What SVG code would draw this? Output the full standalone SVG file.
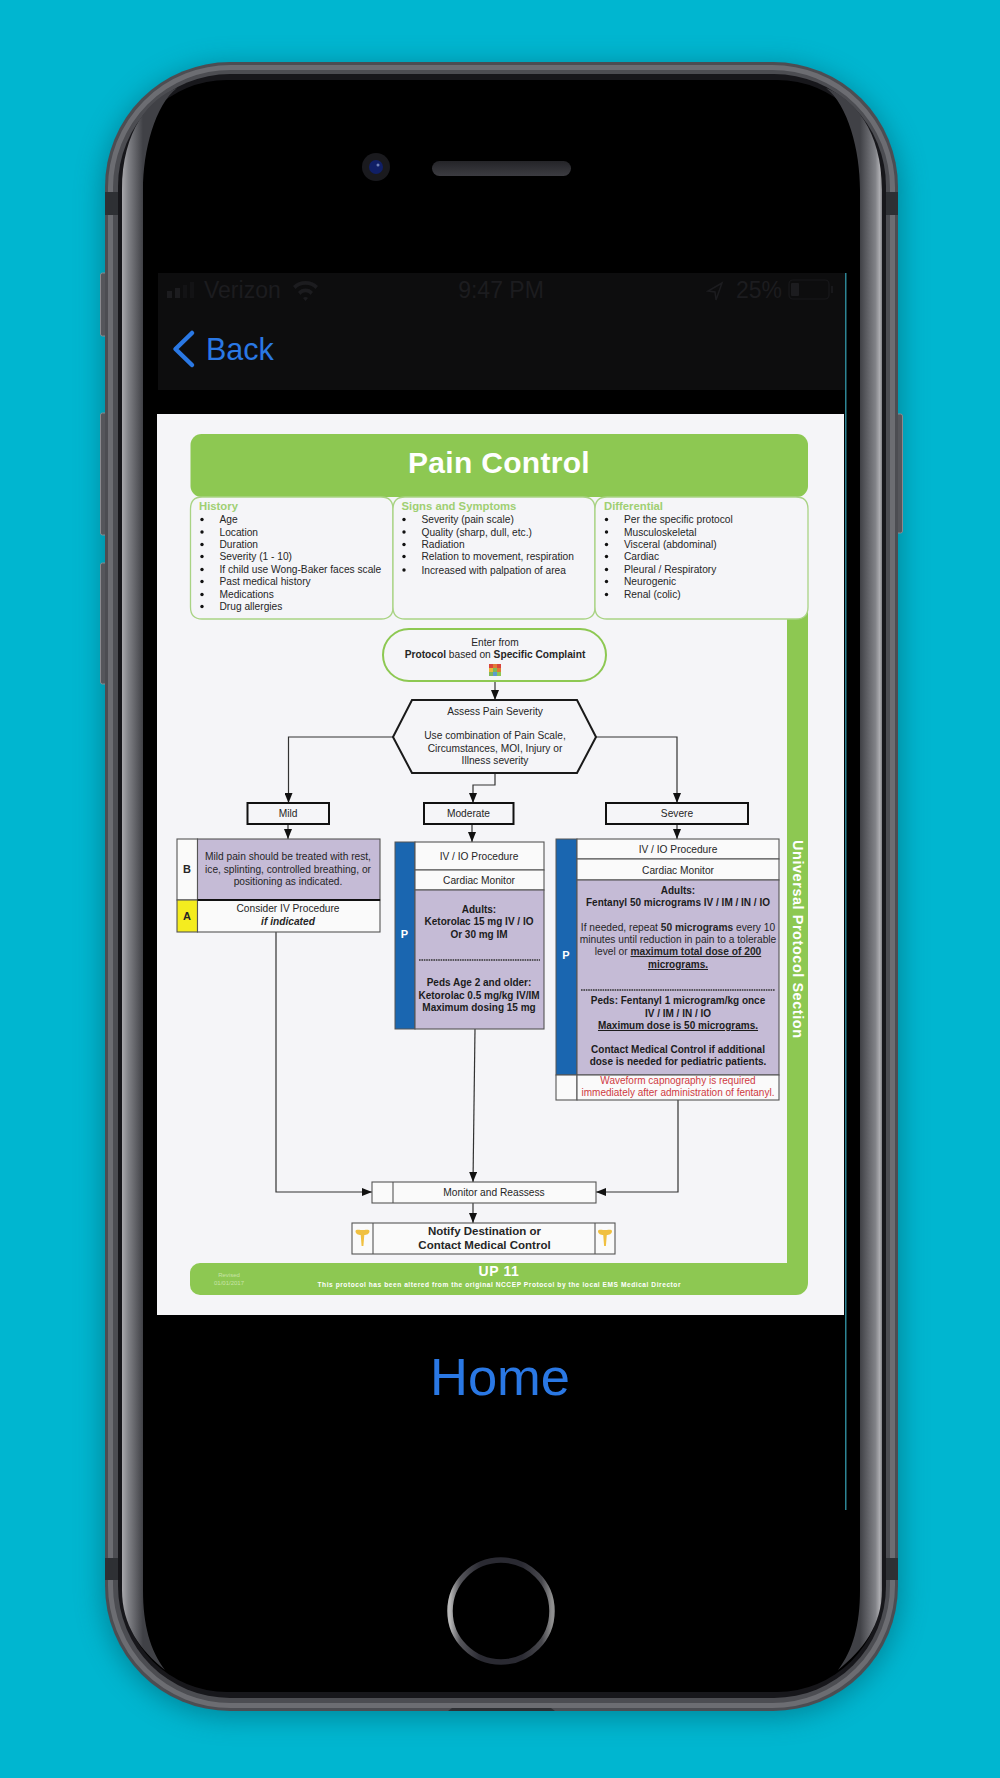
<svg xmlns="http://www.w3.org/2000/svg" width="1000" height="1778" viewBox="0 0 1000 1778">
<style>
text{font-family:"Liberation Sans",Arial,sans-serif;fill:#262626;font-size:10.2px}
.c{text-anchor:middle}
.b{font-weight:700}
.bb{font-weight:700;font-size:10px;text-anchor:middle;fill:#1c1c1c}
.h{font-weight:700;font-size:11.3px;fill:#9fcf72}
.li{font-size:10.2px}
.box{fill:#fafafa;stroke:#555;stroke-width:1.1}
.pur{fill:#c5bbd6;stroke:#555;stroke-width:1.1}
.blue{fill:#1a66b0}
.lab{fill:#f5f5f8;stroke:#111;stroke-width:2}
.info{fill:#f5f5f8;stroke:#a9d384;stroke-width:1.3}
.con{fill:none;stroke:#333;stroke-width:1.2}
.dash{stroke:#333;stroke-width:1.6;stroke-dasharray:1.6 .8}
.st{fill:#1c1c1f;font-size:23px}
.blue-t{fill:#2a78e4}
.red{fill:#cf3a42;font-size:10px;text-anchor:middle}
.u{text-decoration:underline}
.btn{fill:#55565b;stroke:#8a8a8f;stroke-width:1}
.band{fill:#2e3034}
.dot{fill:#111}
</style>
<defs>
<marker id="ah" viewBox="0 0 10 8" refX="10" refY="4" markerWidth="10" markerHeight="8" markerUnits="userSpaceOnUse" orient="auto"><path d="M0 0L10 4L0 8Z" fill="#111"/></marker>
<filter id="sh" x="-10%" y="-10%" width="120%" height="120%"><feGaussianBlur stdDeviation="14"/></filter>
<linearGradient id="bl" gradientUnits="userSpaceOnUse" x1="122" y1="0" x2="143" y2="0"><stop offset="0" stop-color="#a8a8ac"/><stop offset=".3" stop-color="#818287"/><stop offset="1" stop-color="#404146"/></linearGradient>
<linearGradient id="br" gradientUnits="userSpaceOnUse" x1="860" y1="0" x2="882" y2="0"><stop offset="0" stop-color="#404146"/><stop offset=".7" stop-color="#818287"/><stop offset=".9" stop-color="#aeaeb2"/><stop offset="1" stop-color="#808084"/></linearGradient>
<linearGradient id="ring" x1="0" y1="0" x2="1" y2="0"><stop offset="0" stop-color="#b8b8b8"/><stop offset=".1" stop-color="#55555a"/><stop offset=".3" stop-color="#2a2a32"/><stop offset=".7" stop-color="#2a2a32"/><stop offset=".9" stop-color="#48484d"/><stop offset="1" stop-color="#8f8f8f"/></linearGradient>
<linearGradient id="spk" x1="0" y1="0" x2="0" y2="1"><stop offset="0" stop-color="#242428"/><stop offset="1" stop-color="#3c3c41"/></linearGradient>
<path id="cad" d="M-7-7C-7-8.500-4-8.500-2-8L2-8C4-8.500 7-8.500 7-7C7-4 4-3 1.800-3L.9 8L-.9 8L-1.800-3C-4-3-7-4-7-7Z" fill="#f0c040"/>
</defs>
<rect width="1000" height="1778" fill="#00b6d0"/>
<g id="phone">
<rect x="103" y="66" width="797" height="1650" rx="128" fill="#03606f" opacity=".6" filter="url(#sh)"/>
<rect class="btn" x="100.500" y="273" width="7" height="63" rx="2"/>
<rect class="btn" x="100.500" y="413" width="7" height="122" rx="2"/>
<rect class="btn" x="100.500" y="563" width="7" height="121" rx="2"/>
<rect class="btn" x="895.500" y="414" width="7" height="119" rx="2"/>
<rect x="105" y="62" width="793" height="1649" rx="125" fill="#4c4d52"/>
<rect x="110.500" y="67.500" width="782" height="1638" rx="120" fill="none" stroke="#6c6d72" stroke-width="5"/>
<rect class="band" x="105" y="192" width="13" height="23"/>
<rect class="band" x="885" y="192" width="13" height="23"/>
<rect class="band" x="105" y="1558" width="13" height="22"/>
<rect class="band" x="885" y="1558" width="13" height="22"/>
<path class="band" d="M448 1711L452 1708H551L555 1711Z"/>
<rect x="118" y="74" width="768" height="1624" rx="112" fill="#17171b"/>
<rect x="122" y="80" width="760" height="1612" rx="105" fill="#000"/>
<path d="M177 88C150 98 122 130 122 190V1590C122 1625 140 1650 165 1670C150 1650 143 1625 143 1590V190C143 150 155 105 177 88Z" fill="url(#bl)"/>
<path d="M826 88C853 98 882 130 882 190V1590C882 1625 863 1650 838 1670C853 1650 860 1625 860 1590V190C860 150 848 105 826 88Z" fill="url(#br)"/>
<circle cx="376" cy="167" r="14" fill="#1a1a1e"/>
<circle cx="376" cy="167" r="7" fill="#101f66"/>
<circle cx="378" cy="165" r="1.500" fill="#6f80b8"/>
<rect x="432" y="161" width="139" height="15" rx="7.500" fill="url(#spk)"/>
<circle cx="501" cy="1611" r="51" fill="none" stroke="url(#ring)" stroke-width="5.500"/>
<rect x="158" y="273" width="687" height="117" fill="#0d0d0e"/>
<rect x="845" y="273" width="1.500" height="1237" fill="#2d8494"/>
<rect x="157" y="414" width="687" height="901" fill="#f5f5f8"/>
<g id="status-bar">
<rect x="167" y="291" width="5" height="7" fill="#1c1c1f"/><rect x="175" y="288" width="5" height="10" fill="#1c1c1f"/><rect x="183" y="285" width="4" height="13" fill="#131315"/><rect x="190" y="282" width="4" height="16" fill="#131315"/>
<text class="st" x="204" y="298">Verizon</text>
<path d="M293 286a18 18 0 0 1 25 0l-2.500 3a14 14 0 0 0-20 0zM298 292a10 10 0 0 1 15 0l-2.500 3a6 6 0 0 0-10 0zM303 298a4 4 0 0 1 5 0l-2.500 3z" fill="#1c1c1f"/>
<text class="st c" x="501" y="298">9:47 PM</text>
<path d="M722 283L708 291L715 292L716 300Z" fill="none" stroke="#1c1c1f" stroke-width="1.500"/>
<text class="st" x="736" y="298">25%</text>
<rect x="789" y="280" width="40" height="19" rx="4" fill="none" stroke="#18181b" stroke-width="1.200"/>
<rect x="791" y="283" width="8" height="13" rx="1" fill="#1c1c1f"/>
<rect x="831" y="286" width="2" height="7" fill="#18181b"/>
</g>
<g id="back-button">
<path d="M192 333L175.500 349L192 365" fill="none" stroke="#2a78e4" stroke-width="4.500" stroke-linecap="round" stroke-linejoin="round"/>
<text class="blue-t" x="206" y="360" style="font-size:30.500px">Back</text>
</g>
<g id="home-button"><text class="blue-t c" x="500" y="1395" style="font-size:52.500px">Home</text></g>
</g>

<g id="frame">
<path d="M787 610V1263H200A10 10 0 0 0 190 1273V1285A10 10 0 0 0 200 1295H796A12 12 0 0 0 808 1283V610Z" fill="#8dc852"/>
<text class="b" x="0" y="0" transform="translate(793 939) rotate(90)" text-anchor="middle" textLength="198" lengthAdjust="spacing" style="fill:#fff;font-size:14.500px">Universal Protocol Section</text>
<text class="b c" x="499" y="1276" style="fill:#fff;font-size:14px;letter-spacing:.6px">UP 11</text>
<text class="b c" x="499" y="1287" textLength="363" lengthAdjust="spacing" style="fill:#fff;font-size:6.600px">This protocol has been altered from the original NCCEP Protocol by the local EMS Medical Director</text>
<text class="c" x="229" y="1277" style="fill:#c8e4a8;font-size:6px">Revised</text>
<text class="c" x="229" y="1285" style="fill:#c8e4a8;font-size:6px">01/01/2017</text>
</g>

<g id="title"><rect x="190.500" y="434" width="617.500" height="63" rx="11" fill="#8dc852"/>
<text class="b c" x="499" y="473" style="fill:#fff;font-size:30px;letter-spacing:.3px">Pain Control</text></g>

<g id="history"><path class="info" d="M202 497H381Q393 497 393 509V607Q393 619 381 619H202Q190.500 619 190.500 607V509Q190.500 497 202 497Z"/>
<text class="h" x="199" y="510">History</text>
<circle class="dot" cx="202" cy="519.500" r="1.700"/><text class="li" x="219.500" y="523">Age</text>
<circle class="dot" cx="202" cy="532" r="1.700"/><text class="li" x="219.500" y="535.500">Location</text>
<circle class="dot" cx="202" cy="544.500" r="1.700"/><text class="li" x="219.500" y="548">Duration</text>
<circle class="dot" cx="202" cy="556.500" r="1.700"/><text class="li" x="219.500" y="560">Severity (1 - 10)</text>
<circle class="dot" cx="202" cy="569.500" r="1.700"/><text class="li" x="219.500" y="572.700">If child use Wong-Baker faces scale</text>
<circle class="dot" cx="202" cy="581.500" r="1.700"/><text class="li" x="219.500" y="585">Past medical history</text>
<circle class="dot" cx="202" cy="594.500" r="1.700"/><text class="li" x="219.500" y="597.700">Medications</text>
<circle class="dot" cx="202" cy="606.500" r="1.700"/><text class="li" x="219.500" y="610">Drug allergies</text>
</g>

<g id="signs"><path class="info" d="M405 497H583Q595 497 595 509V607Q595 619 583 619H405Q393 619 393 607V509Q393 497 405 497Z"/>
<text class="h" x="401.500" y="510">Signs and Symptoms</text>
<circle class="dot" cx="404" cy="519.500" r="1.700"/><text class="li" x="421.500" y="523">Severity (pain scale)</text>
<circle class="dot" cx="404" cy="532" r="1.700"/><text class="li" x="421.500" y="535.500">Quality (sharp, dull, etc.)</text>
<circle class="dot" cx="404" cy="544.500" r="1.700"/><text class="li" x="421.500" y="548">Radiation</text>
<circle class="dot" cx="404" cy="556.500" r="1.700"/><text class="li" x="421.500" y="560">Relation to movement, respiration</text>
<circle class="dot" cx="404" cy="570" r="1.700"/><text class="li" x="421.500" y="573.500">Increased with palpation of area</text>
</g>

<g id="differential"><path class="info" d="M607 497H796Q808 497 808 509V607Q808 619 796 619H607Q595 619 595 607V509Q595 497 607 497Z"/>
<text class="h" x="604" y="510">Differential</text>
<circle class="dot" cx="606.500" cy="519.500" r="1.700"/><text class="li" x="624" y="523">Per the specific protocol</text>
<circle class="dot" cx="606.500" cy="532" r="1.700"/><text class="li" x="624" y="535.500">Musculoskeletal</text>
<circle class="dot" cx="606.500" cy="544.500" r="1.700"/><text class="li" x="624" y="548">Visceral (abdominal)</text>
<circle class="dot" cx="606.500" cy="556.500" r="1.700"/><text class="li" x="624" y="560">Cardiac</text>
<circle class="dot" cx="606.500" cy="569.500" r="1.700"/><text class="li" x="624" y="572.700">Pleural / Respiratory</text>
<circle class="dot" cx="606.500" cy="581.500" r="1.700"/><text class="li" x="624" y="585">Neurogenic</text>
<circle class="dot" cx="606.500" cy="594.500" r="1.700"/><text class="li" x="624" y="597.700">Renal (colic)</text>
</g>

<g id="connectors">
<path class="con" marker-end="url(#ah)" d="M495 681V700"/>
<path class="con" marker-end="url(#ah)" d="M393 737H288.500V803"/>
<path class="con" marker-end="url(#ah)" d="M596 737H677V803"/>
<path class="con" marker-end="url(#ah)" d="M495 773V785H473V803"/>
<path class="con" marker-end="url(#ah)" d="M288 824V839"/>
<path class="con" marker-end="url(#ah)" d="M472 824V842"/>
<path class="con" marker-end="url(#ah)" d="M677 824V839"/>
<path class="con" marker-end="url(#ah)" d="M276 932V1192H372"/>
<path class="con" marker-end="url(#ah)" d="M475 1029L473 1182"/>
<path class="con" marker-end="url(#ah)" d="M678 1100V1192H596"/>
<path class="con" marker-end="url(#ah)" d="M473 1203V1223"/>
</g>

<g id="enter"><rect x="383" y="629" width="223" height="52" rx="26" fill="#f5f5f8" stroke="#8dc852" stroke-width="2"/>
<text class="c" x="495" y="646">Enter from</text>
<text class="c" x="495" y="658"><tspan class="b">Protocol</tspan> based on <tspan class="b">Specific Complaint</tspan></text>
<rect x="489" y="664" width="4" height="4" fill="#d9443c"/><rect x="493" y="664" width="4" height="4" fill="#e07b35"/><rect x="497" y="664" width="4" height="4" fill="#d9443c"/>
<rect x="489" y="668" width="4" height="4" fill="#e9b93a"/><rect x="493" y="668" width="4" height="4" fill="#7fb85a"/><rect x="497" y="668" width="4" height="4" fill="#e07b35"/>
<rect x="489" y="672" width="4" height="4" fill="#7fb85a"/><rect x="493" y="672" width="4" height="4" fill="#5d9bd0"/><rect x="497" y="672" width="4" height="4" fill="#8dc852"/>
</g>

<g id="assess"><path d="M412 700H577L596 737L577 773H412L393 737Z" fill="#f5f5f8" stroke="#1a1a1a" stroke-width="2"/>
<text class="c" x="495" y="715">Assess Pain Severity</text>
<text class="c" x="495" y="739">Use combination of Pain Scale,</text>
<text class="c" x="495" y="752">Circumstances, MOI, Injury or</text>
<text class="c" x="495" y="764">Illness severity</text></g>

<g id="mild"><rect class="lab" x="247.500" y="803" width="81.500" height="21"/><text class="c" x="288" y="816.500">Mild</text></g>
<g id="moderate"><rect class="lab" x="424" y="803" width="89.500" height="21"/><text class="c" x="468.500" y="816.500">Moderate</text></g>
<g id="severe"><rect class="lab" x="606" y="803" width="142" height="21"/><text class="c" x="677" y="816.500">Severe</text></g>

<g id="bls">
<rect class="box" x="177" y="839" width="20.500" height="61"/>
<rect class="pur" x="197.500" y="839" width="182.500" height="61"/>
<text class="b c" x="187" y="872.500" style="font-size:11px">B</text>
<text class="c" x="288" y="860">Mild pain should be treated with rest,</text>
<text class="c" x="288" y="873">ice, splinting, controlled breathing, or</text>
<text class="c" x="288" y="885">positioning as indicated.</text>
</g>
<g id="als">
<rect x="177" y="900" width="20.500" height="32" fill="#f4ec1f" stroke="#555" stroke-width="1.100"/>
<rect class="box" x="197.500" y="900" width="182.500" height="32"/>
<path d="M197.500 900H380" stroke="#111" stroke-width="1.800"/>
<text class="b c" x="187" y="919.500" style="font-size:11px">A</text>
<text class="c" x="288" y="912">Consider IV Procedure</text>
<text class="b c" x="288" y="925" style="font-style:italic">if indicated</text>
</g>

<g id="moderate-protocol">
<rect class="blue" x="395" y="842" width="20" height="187" stroke="#555" stroke-width="1"/>
<rect class="box" x="415" y="842" width="129" height="28"/>
<rect class="box" x="415" y="870" width="129" height="20"/>
<rect class="pur" x="415" y="890" width="129" height="139"/>
<text class="b c" x="404.500" y="938" style="fill:#fff;font-size:11px">P</text>
<text class="c" x="479" y="859.500">IV / IO Procedure</text>
<text class="c" x="479" y="883.500">Cardiac Monitor</text>
<text class="bb" x="479" y="913">Adults:</text>
<text class="bb" x="479" y="925">Ketorolac 15 mg IV / IO</text>
<text class="bb" x="479" y="938">Or 30 mg IM</text>
<path class="dash" d="M419 960H540"/>
<text class="bb" x="479" y="986">Peds Age 2 and older:</text>
<text class="bb" x="479" y="999">Ketorolac 0.5 mg/kg IV/IM</text>
<text class="bb" x="479" y="1011">Maximum dosing 15 mg</text>
</g>

<g id="severe-protocol">
<rect class="blue" x="556" y="839" width="21" height="236" stroke="#555" stroke-width="1"/>
<rect class="box" x="577" y="839" width="202" height="20"/>
<rect class="box" x="577" y="859" width="202" height="21"/>
<rect class="pur" x="577" y="880" width="202" height="195"/>
<rect class="box" x="556" y="1075" width="21" height="25"/>
<rect class="box" x="577" y="1075" width="202" height="25"/>
<text class="b c" x="566" y="959" style="fill:#fff;font-size:11px">P</text>
<text class="c" x="678" y="852.500">IV / IO Procedure</text>
<text class="c" x="678" y="873.500">Cardiac Monitor</text>
<text class="bb" x="678" y="894">Adults:</text>
<text class="bb" x="678" y="906">Fentanyl 50 micrograms IV / IM / IN / IO</text>
<text class="c" x="678" y="931">If needed, repeat <tspan class="b">50 micrograms</tspan> every 10</text>
<text class="c" x="678" y="943">minutes until reduction in pain to a tolerable</text>
<text class="c" x="678" y="955">level or <tspan class="b u">maximum total dose of 200</tspan></text>
<text class="bb" x="678" y="968"><tspan class="u">micrograms.</tspan></text>
<path class="dash" d="M581 990H775"/>
<text class="bb" x="678" y="1004">Peds: Fentanyl 1 microgram/kg once</text>
<text class="bb" x="678" y="1017">IV / IM / IN / IO</text>
<text class="bb" x="678" y="1029"><tspan class="u">Maximum dose is 50 micrograms.</tspan></text>
<text class="bb" x="678" y="1053">Contact Medical Control if additional</text>
<text class="bb" x="678" y="1065">dose is needed for pediatric patients.</text>
<text class="red" x="678" y="1084">Waveform capnography is required</text>
<text class="red" x="678" y="1096">immediately after administration of fentanyl.</text>
</g>

<g id="monitor"><rect class="box" x="372" y="1182" width="224" height="21"/><path d="M393 1182V1203" stroke="#555" stroke-width="1.100"/>
<text class="c" x="494" y="1196">Monitor and Reassess</text></g>

<g id="notify"><rect class="box" x="352" y="1223" width="263" height="31"/><path d="M373 1223V1254M595 1223V1254" stroke="#555" stroke-width="1.100"/>
<use href="#cad" transform="translate(362.500 1238)"/><use href="#cad" transform="translate(605 1238)"/>
<text class="b c" x="484.500" y="1235" style="font-size:11.500px">Notify Destination or</text>
<text class="b c" x="484.500" y="1248.500" style="font-size:11.500px">Contact Medical Control</text></g>
</svg>
